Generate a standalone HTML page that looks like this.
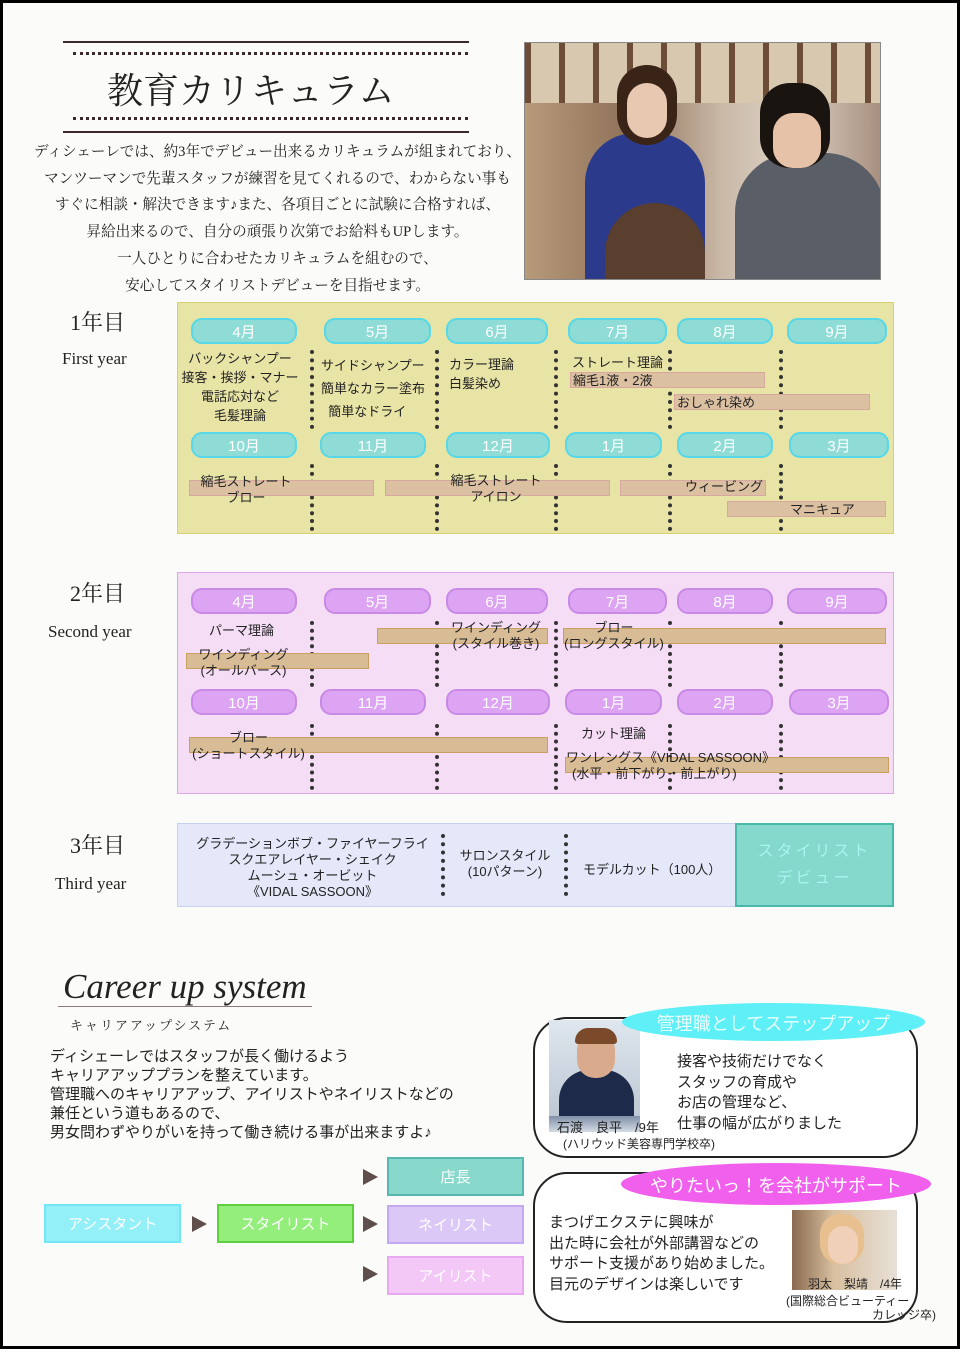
<!DOCTYPE html>
<html><head><meta charset="utf-8"><style>
*{margin:0;padding:0;box-sizing:border-box}
body{width:970px;height:1357px;background:#fff;position:relative;overflow:hidden;font-family:"Liberation Sans","Noto Sans CJK JP",sans-serif;color:#222}
.a{position:absolute}
.frame{left:0;top:0;width:960px;height:1349px;border:3px solid #000;background:#fbfbfa}
.serif{font-family:"Liberation Serif","Noto Serif CJK SC",serif}
.pill{position:absolute;height:26px;border-radius:11px;color:#fff;font-size:15px;text-align:center;line-height:26px}
.p1{background:#8fdcd6;border:2px solid #56d8e8}
.p2{background:#dca4f2;border:2px solid #c98ae6}
.dot{position:absolute;width:0;border-left:4px dotted #333}
.bar{position:absolute;height:16px;background:#dcc0a2;border:1px solid #d6a8a0}
.bar2{position:absolute;height:16px;background:#d8bc96;border:1px solid #c8a060}
.t{position:absolute;font-size:13px;white-space:nowrap;line-height:16px}
.c{text-align:center}
.box{position:absolute;width:137px;height:39px;color:#fff;font-size:15px;text-align:center;line-height:37px}
.tri{position:absolute;width:0;height:0;border-top:8px solid transparent;border-bottom:8px solid transparent;border-left:15px solid #5e4e4c}
</style></head><body>
<div class="a frame"></div>

<!-- header -->
<div class="a" style="left:63px;top:41px;width:406px;height:2px;background:#3a2a2a"></div>
<div class="a" style="left:73px;top:52px;width:395px;border-top:3px dotted #3a2a2a"></div>
<div class="a serif" style="left:107px;top:63px;font-size:36px;letter-spacing:0px;color:#222">教育カリキュラム</div>
<div class="a" style="left:73px;top:117px;width:395px;border-top:3px dotted #3a2a2a"></div>
<div class="a" style="left:63px;top:131px;width:406px;height:2px;background:#3a2a2a"></div>
<div class="a serif" style="left:25px;top:139px;width:505px;text-align:center;font-size:14.6px;line-height:26.7px;white-space:nowrap">ディシェーレでは、約3年でデビュー出来るカリキュラムが組まれており、<br>マンツーマンで先輩スタッフが練習を見てくれるので、わからない事も<br>すぐに相談・解決できます♪また、各項目ごとに試験に合格すれば、<br>昇給出来るので、自分の頑張り次第でお給料もUPします。<br>一人ひとりに合わせたカリキュラムを組むので、<br>安心してスタイリストデビューを目指せます。</div>

<!-- photo -->
<div class="a" style="left:524px;top:42px;width:357px;height:238px;border:1px solid #888;overflow:hidden;background:linear-gradient(90deg,#b79a7a 0%,#8e7058 30%,#c9b8a6 55%,#ddd3c6 75%,#a89080 100%)">
 <div class="a" style="left:0;top:0;width:357px;height:60px;background:repeating-linear-gradient(90deg,#6d4c38 0 6px,#d8c8b0 6px 34px)"></div>
 <div class="a" style="left:60px;top:90px;width:120px;height:150px;border-radius:50px 50px 0 0;background:#2b3a8a"></div>
 <div class="a" style="left:92px;top:22px;width:60px;height:80px;border-radius:30px;background:#3a2418"></div>
 <div class="a" style="left:102px;top:40px;width:40px;height:55px;border-radius:20px;background:#e8c8b0"></div>
 <div class="a" style="left:80px;top:160px;width:100px;height:80px;border-radius:50px 50px 0 0;background:#5a3e2e"></div>
 <div class="a" style="left:210px;top:110px;width:150px;height:130px;border-radius:60px 60px 0 0;background:#5a5e66"></div>
 <div class="a" style="left:235px;top:40px;width:70px;height:85px;border-radius:30px;background:#1a1410"></div>
 <div class="a" style="left:248px;top:70px;width:48px;height:55px;border-radius:20px;background:#e6c2a8"></div>
</div>

<!-- Year labels -->
<div class="a serif" style="left:70px;top:306px;font-size:22px">1年目</div>
<div class="a serif" style="left:62px;top:349px;font-size:17px">First year</div>
<div class="a serif" style="left:70px;top:577px;font-size:22px">2年目</div>
<div class="a serif" style="left:48px;top:622px;font-size:17px">Second year</div>
<div class="a serif" style="left:70px;top:829px;font-size:22px">3年目</div>
<div class="a serif" style="left:55px;top:874px;font-size:17px">Third year</div>

<!-- Year 1 -->
<div class="a" style="left:177px;top:302px;width:717px;height:232px;background:#e8e4a6;border:1px solid #d8d070"></div>
<div class="pill p1" style="left:191px;top:318px;width:106px">4月</div>
<div class="pill p1" style="left:324px;top:318px;width:107px">5月</div>
<div class="pill p1" style="left:446px;top:318px;width:102px">6月</div>
<div class="pill p1" style="left:568px;top:318px;width:99px">7月</div>
<div class="pill p1" style="left:677px;top:318px;width:96px">8月</div>
<div class="pill p1" style="left:787px;top:318px;width:100px">9月</div>
<div class="pill p1" style="left:191px;top:432px;width:106px">10月</div>
<div class="pill p1" style="left:320px;top:432px;width:106px">11月</div>
<div class="pill p1" style="left:446px;top:432px;width:104px">12月</div>
<div class="pill p1" style="left:565px;top:432px;width:97px">1月</div>
<div class="pill p1" style="left:677px;top:432px;width:96px">2月</div>
<div class="pill p1" style="left:789px;top:432px;width:100px">3月</div>
<div class="dot" style="left:310px;top:350px;height:79px"></div>
<div class="dot" style="left:435px;top:350px;height:79px"></div>
<div class="dot" style="left:554px;top:350px;height:79px"></div>
<div class="dot" style="left:668px;top:350px;height:79px"></div>
<div class="dot" style="left:779px;top:350px;height:79px"></div>
<div class="dot" style="left:310px;top:464px;height:67px"></div>
<div class="dot" style="left:435px;top:464px;height:67px"></div>
<div class="dot" style="left:554px;top:464px;height:67px"></div>
<div class="dot" style="left:668px;top:464px;height:67px"></div>
<div class="dot" style="left:779px;top:464px;height:67px"></div>
<div class="bar" style="left:570px;top:372px;width:195px"></div>
<div class="bar" style="left:674px;top:394px;width:196px"></div>
<div class="bar" style="left:189px;top:480px;width:185px"></div>
<div class="bar" style="left:385px;top:480px;width:225px"></div>
<div class="bar" style="left:620px;top:480px;width:146px"></div>
<div class="bar" style="left:727px;top:501px;width:159px"></div>
<div class="t c" style="left:180px;top:349px;width:120px;line-height:19px">バックシャンプー<br>接客・挨拶・マナー<br>電話応対など<br>毛髪理論</div>
<div class="t" style="left:321px;top:354px;line-height:23px">サイドシャンプー<br>簡単なカラー塗布<br>&nbsp;&nbsp;簡単なドライ</div>
<div class="t" style="left:449px;top:355px;line-height:19px">カラー理論<br>白髪染め</div>
<div class="t" style="left:572px;top:355px">ストレート理論</div>
<div class="t" style="left:573px;top:373px">縮毛1液・2液</div>
<div class="t" style="left:677px;top:395px">おしゃれ染め</div>
<div class="t c" style="left:190px;top:474px;width:112px">縮毛ストレート<br>ブロー</div>
<div class="t c" style="left:440px;top:473px;width:112px">縮毛ストレート<br>アイロン</div>
<div class="t" style="left:685px;top:479px">ウィービング</div>
<div class="t" style="left:790px;top:502px">マニキュア</div>

<!-- Year 2 -->
<div class="a" style="left:177px;top:572px;width:717px;height:222px;background:#f5ddf6;border:1px solid #e0a4ea"></div>
<div class="pill p2" style="left:191px;top:588px;width:106px">4月</div>
<div class="pill p2" style="left:324px;top:588px;width:107px">5月</div>
<div class="pill p2" style="left:446px;top:588px;width:102px">6月</div>
<div class="pill p2" style="left:568px;top:588px;width:99px">7月</div>
<div class="pill p2" style="left:677px;top:588px;width:96px">8月</div>
<div class="pill p2" style="left:787px;top:588px;width:100px">9月</div>
<div class="pill p2" style="left:191px;top:689px;width:106px">10月</div>
<div class="pill p2" style="left:320px;top:689px;width:106px">11月</div>
<div class="pill p2" style="left:446px;top:689px;width:104px">12月</div>
<div class="pill p2" style="left:565px;top:689px;width:97px">1月</div>
<div class="pill p2" style="left:677px;top:689px;width:96px">2月</div>
<div class="pill p2" style="left:789px;top:689px;width:100px">3月</div>
<div class="dot" style="left:310px;top:621px;height:66px"></div>
<div class="dot" style="left:435px;top:621px;height:66px"></div>
<div class="dot" style="left:554px;top:621px;height:66px"></div>
<div class="dot" style="left:668px;top:621px;height:66px"></div>
<div class="dot" style="left:779px;top:621px;height:66px"></div>
<div class="dot" style="left:310px;top:724px;height:66px"></div>
<div class="dot" style="left:435px;top:724px;height:66px"></div>
<div class="dot" style="left:554px;top:724px;height:66px"></div>
<div class="dot" style="left:668px;top:724px;height:66px"></div>
<div class="dot" style="left:779px;top:724px;height:66px"></div>
<div class="bar2" style="left:186px;top:653px;width:183px"></div>
<div class="bar2" style="left:377px;top:628px;width:171px"></div>
<div class="bar2" style="left:563px;top:628px;width:323px"></div>
<div class="bar2" style="left:189px;top:737px;width:359px"></div>
<div class="bar2" style="left:565px;top:757px;width:324px"></div>
<div class="t" style="left:209px;top:623px">パーマ理論</div>
<div class="t c" style="left:186px;top:647px;width:115px">ワインディング<br>(オールバース)</div>
<div class="t c" style="left:440px;top:620px;width:112px">ワインディング<br>(スタイル巻き)</div>
<div class="t c" style="left:558px;top:620px;width:112px">ブロー<br>(ロングスタイル)</div>
<div class="t c" style="left:186px;top:730px;width:125px">ブロー<br>(ショートスタイル)</div>
<div class="t" style="left:581px;top:726px">カット理論</div>
<div class="t" style="left:566px;top:750px">ワンレングス《VIDAL SASSOON》</div>
<div class="t" style="left:572px;top:766px">(水平・前下がり・前上がり)</div>

<!-- Year 3 -->
<div class="a" style="left:177px;top:823px;width:717px;height:84px;background:#e4e8f8;border:1px solid #c8d0f0"></div>
<div class="a" style="left:735px;top:823px;width:159px;height:84px;background:#84d8cc;border:2px solid #48b8a8"></div>
<div class="a c" style="left:735px;top:838px;width:159px;color:#a8f4f0;font-size:16px;line-height:27px;letter-spacing:3px">スタイリスト<br>デビュー</div>
<div class="dot" style="left:441px;top:834px;height:62px"></div>
<div class="dot" style="left:564px;top:834px;height:62px"></div>
<div class="t c" style="left:185px;top:836px;width:255px">グラデーションボブ・ファイヤーフライ<br>スクエアレイヤー・シェイク<br>ムーシュ・オービット<br>《VIDAL SASSOON》</div>
<div class="t c" style="left:450px;top:848px;width:110px">サロンスタイル<br>(10パターン)</div>
<div class="t" style="left:583px;top:862px">モデルカット（100人）</div>

<!-- Career -->
<div class="a serif" style="left:63px;top:967px;font-size:35px;font-style:italic;color:#222">Career up system</div>
<div class="a" style="left:58px;top:1006px;width:254px;height:1px;background:#8a7a7a"></div>
<div class="a serif" style="left:70px;top:1015px;font-size:13px;letter-spacing:2px">キャリアアップシステム</div>
<div class="a" style="left:50px;top:1047px;font-size:15px;line-height:19px;white-space:nowrap">ディシェーレではスタッフが長く働けるよう<br>キャリアアッププランを整えています。<br>管理職へのキャリアアップ、アイリストやネイリストなどの<br>兼任という道もあるので、<br>男女問わずやりがいを持って働き続ける事が出来ますよ♪</div>

<div class="box" style="left:44px;top:1204px;background:#94f0f8;border:2px solid #70e6f6">アシスタント</div>
<div class="box" style="left:217px;top:1204px;width:137px;background:#94ee7c;border:2px solid #5ed040">スタイリスト</div>
<div class="box" style="left:387px;top:1157px;background:#88d8cc;border:2px solid #58b8b0">店長</div>
<div class="box" style="left:387px;top:1205px;background:#dcc8f6;border:2px solid #c4a8f0">ネイリスト</div>
<div class="box" style="left:387px;top:1256px;background:#f4c8f6;border:2px solid #e6a8ee">アイリスト</div>
<div class="tri" style="left:192px;top:1216px"></div>
<div class="tri" style="left:363px;top:1216px"></div>
<div class="tri" style="left:363px;top:1169px"></div>
<div class="tri" style="left:363px;top:1266px"></div>

<!-- bubble 1 -->
<div class="a" style="left:533px;top:1017px;width:385px;height:141px;border:2px solid #222;border-radius:34px;background:#fff"></div>
<div class="a" style="left:549px;top:1020px;width:91px;height:112px;background:linear-gradient(180deg,#dfe6ee,#b8c4d0);overflow:hidden">
 <div class="a" style="left:10px;top:50px;width:75px;height:48px;border-radius:30px 30px 0 0;background:#1d2a4a"></div>
 <div class="a" style="left:0px;top:96px;width:91px;height:20px;background:linear-gradient(180deg,#8090a8,#e8eef4)"></div>
 <div class="a" style="left:28px;top:12px;width:38px;height:46px;border-radius:18px;background:#d9ab8c"></div>
 <div class="a" style="left:26px;top:8px;width:42px;height:16px;border-radius:18px 18px 4px 4px;background:#7a4a2a"></div>
</div>
<div class="a" style="left:622px;top:1003px;width:303px;height:38px;border-radius:50%;background:#5ef0f6"></div>
<div class="a c" style="left:622px;top:1010px;width:303px;font-size:18px;color:#e8ffff">管理職としてステップアップ</div>
<div class="a" style="left:677px;top:1052px;font-size:15px;line-height:20.5px;white-space:nowrap">接客や技術だけでなく<br>スタッフの育成や<br>お店の管理など、<br>仕事の幅が広がりました</div>
<div class="t" style="left:557px;top:1120px">石渡　良平　/9年</div>
<div class="t" style="left:563px;top:1136px;font-size:12px">(ハリウッド美容専門学校卒)</div>

<!-- bubble 2 -->
<div class="a" style="left:533px;top:1172px;width:385px;height:151px;border:2px solid #222;border-radius:34px;background:#fff"></div>
<div class="a" style="left:792px;top:1210px;width:105px;height:80px;background:linear-gradient(90deg,#8a6a50,#d8c0a0 40%,#e8e0d8);overflow:hidden">
 <div class="a" style="left:28px;top:4px;width:44px;height:50px;border-radius:20px;background:#e8c090"></div>
 <div class="a" style="left:36px;top:16px;width:30px;height:38px;border-radius:15px;background:#f0d0b8"></div>
</div>
<div class="a" style="left:621px;top:1163px;width:310px;height:42px;border-radius:50%;background:#f060ec"></div>
<div class="a c" style="left:621px;top:1172px;width:310px;font-size:18px;color:#fff">やりたいっ！を会社がサポート</div>
<div class="a" style="left:549px;top:1213px;font-size:15px;line-height:20.7px;white-space:nowrap">まつげエクステに興味が<br>出た時に会社が外部講習などの<br>サポート支援があり始めました。<br>目元のデザインは楽しいです</div>
<div class="t" style="left:808px;top:1276px;font-size:12px">羽太　梨靖　/4年</div>
<div class="t" style="left:786px;top:1293px;font-size:12px">(国際総合ビューティー</div>
<div class="t" style="left:872px;top:1307px;font-size:12px">カレッジ卒)</div>
</body></html>
